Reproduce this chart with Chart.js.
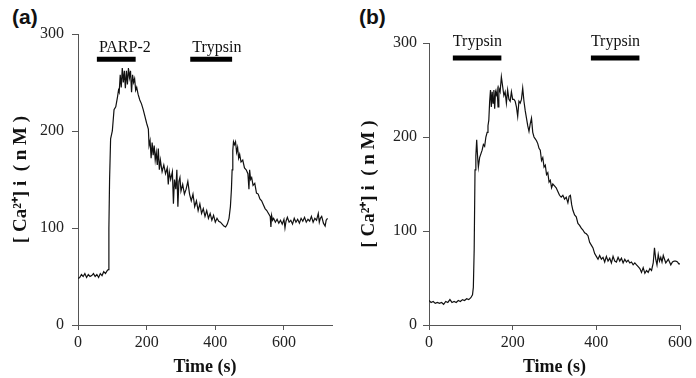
<!DOCTYPE html>
<html>
<head>
<meta charset="utf-8">
<script src="https://cdn.jsdelivr.net/npm/chart.js@4.4.1/dist/chart.umd.min.js"></script>
<style>
  body { margin: 0; background: #fff; width: 696px; height: 378px; position: relative; overflow: hidden; }
  canvas { position: absolute; top: 0; }
  #chartA { left: 0; }
  #chartB { left: 348px; }
  .panel { position: absolute; font: bold 21px "Liberation Sans", Arial, sans-serif; color: #111; }
</style>
</head>
<body>
<div class="panel" style="left:12px; top:5px;">(a)</div>
<div class="panel" style="left:359px; top:5px;">(b)</div>
<canvas id="chartA" width="348" height="378"></canvas>
<canvas id="chartB" width="348" height="378"></canvas>
<script>
// panel (a): PARP-2 then trypsin
const timeA = [0,5,10,15,20,25,30,35,40,45,50,55,60,65,70,75,80,85,88,90,92,95,100,105,110,115,118,120,123,126,129,132,135,138,141,144,147,150,153,156,159,162,165,168,171,175,180,185,190,195,200,205,207,210,213,216,219,222,225,228,231,234,237,240,245,250,255,260,263,266,270,275,278,281,285,288,291,294,297,300,305,310,315,320,325,330,335,340,345,350,355,360,365,370,375,380,385,390,395,400,405,410,415,420,425,430,435,440,444,447,449,451,453,456,459,462,465,468,471,475,480,485,490,495,498,500,503,506,510,515,520,525,530,535,540,545,550,555,560,562,564,567,570,575,580,585,590,595,600,603,606,610,615,620,625,630,635,640,645,650,655,660,665,670,675,680,685,690,695,700,703,706,710,715,720,723,727];
const caA = [48,49,52,50,53,49,52,50,51,53,50,52,49,53,51,55,53,56,57,100,150,192,200,222,225,235,242,240,258,245,265,250,262,244,262,248,265,255,262,240,258,250,254,242,245,238,232,228,222,215,208,202,185,190,172,188,175,185,170,178,165,182,160,170,158,165,156,162,145,158,150,158,125,150,140,160,122,148,152,138,145,135,140,148,135,128,135,122,128,118,125,115,120,112,118,110,115,108,113,106,110,107,106,104,102,101,104,110,122,140,160,180,189,186,189,178,183,172,176,168,170,162,160,156,140,160,150,152,144,146,136,135,130,128,124,120,118,115,112,101,113,108,110,106,109,105,108,104,109,100,107,111,106,108,104,110,106,109,105,110,107,111,106,109,107,112,106,110,108,115,106,110,112,105,102,108,110];

// panel (b): trypsin twice
const timeB = [0,5,10,15,20,25,30,35,40,45,50,55,60,65,70,75,80,85,90,95,100,104,106,108,110,112,114,116,118,121,124,127,130,133,136,139,141,143,145,147,149,151,153,155,157,159,161,163,165,167,170,173,176,179,182,185,188,191,194,197,200,203,206,209,212,215,218,221,224,227,230,233,236,239,242,245,248,251,254,257,260,263,266,269,272,275,278,281,284,287,290,293,296,300,304,308,312,316,320,324,328,332,335,338,341,344,348,352,356,360,364,368,372,376,380,384,388,392,396,400,404,408,412,416,420,424,428,432,436,440,444,448,452,456,460,464,468,472,476,480,484,488,492,496,500,504,508,512,516,520,524,528,532,536,539,542,545,548,551,554,557,560,563,566,569,572,575,578,582,586,590,594,597,600];
const caB = [26,24,25,23,24,23,24,22,25,24,27,24,25,24,26,25,27,26,28,27,29,32,40,80,165,180,197,180,168,178,182,186,192,190,200,205,212,218,238,250,232,248,236,250,230,248,245,250,232,252,248,264,254,244,248,236,250,240,238,248,240,240,238,232,222,238,236,240,252,238,228,220,212,206,214,220,205,200,198,196,193,188,186,175,178,168,170,160,162,152,154,146,150,148,146,142,138,136,138,134,136,130,137,138,128,122,117,115,108,106,103,101,98,97,95,88,85,82,76,73,70,74,70,72,67,73,68,71,66,73,68,67,72,68,71,66,70,67,69,66,67,64,66,64,62,60,56,61,55,58,56,60,58,66,82,70,64,75,68,72,67,74,70,66,68,70,67,64,67,68,68,67,65,65];

const yTicks = [0, 100, 200, 300];
const xTicksA = [0, 200, 400, 600];
const xTicksB = [0, 200, 400, 600];
const xMaxA = 740;
const xMaxB = 600;

// treatment bars (s) and their level on the y scale (nM)
const treatA = ['PARP-2', 'Trypsin'];
const treatStartA = [55, 327];
const treatEndA = [168, 449];
const treatLevelA = 274;
const treatB = ['Trypsin', 'Trypsin'];
const treatStartB = [57, 387];
const treatEndB = [173, 503];
const treatLevelB = 284;

const serif = '"Liberation Serif", "Times New Roman", serif';

const treatmentBars = {
  id: 'treatmentBars',
  afterDatasetsDraw(chart, args, opts) {
    const { ctx, scales: { x, y } } = chart;
    ctx.save();
    ctx.strokeStyle = '#000';
    ctx.fillStyle = '#111';
    ctx.lineWidth = 5;
    ctx.font = '16px ' + serif;
    ctx.textAlign = 'left';
    ctx.textBaseline = 'alphabetic';
    const yy = y.getPixelForValue(opts.level);
    opts.labels.forEach((lab, i) => {
      const x0 = x.getPixelForValue(opts.start[i]);
      const x1 = x.getPixelForValue(opts.end[i]);
      ctx.beginPath();
      ctx.moveTo(x0, yy);
      ctx.lineTo(x1, yy);
      ctx.stroke();
      ctx.fillText(lab, x0 + opts.textShift, yy - opts.gap);
    });
    ctx.restore();
  }
};

function makeChart(id, times, values, xMax, xTicks, bars, axisWidth, yPad, padTop) {
  return new Chart(document.getElementById(id), {
    type: 'line',
    data: {
      datasets: [{
        data: times.map((t, i) => ({ x: t, y: values[i] })),
        borderColor: '#111',
        borderWidth: 1.2,
        pointRadius: 0,
        tension: 0,
        fill: false,
      }],
    },
    options: {
      responsive: false,
      animation: false,
      devicePixelRatio: 1,
      layout: { padding: { left: 0, right: 16, top: padTop, bottom: 0 } },
      plugins: {
        legend: { display: false },
        tooltip: { enabled: false },
        treatmentBars: bars,
      },
      scales: {
        x: {
          type: 'linear',
          min: 0,
          max: xMax,
          afterBuildTicks: (s) => { s.ticks = xTicks.map((v) => ({ value: v })); },
          afterFit: (s) => { s.height = 53; },
          grid: { drawOnChartArea: false, drawTicks: true, tickLength: 5, color: '#555' },
          border: { display: true, color: '#555', width: 1 },
          ticks: { color: '#222', font: { family: serif, size: 16 }, padding: 3, maxRotation: 0 },
          title: {
            display: true,
            text: 'Time (s)',
            color: '#111',
            font: { family: serif, size: 18, weight: 'bold', lineHeight: 1.1 },
            padding: { top: 0, bottom: 1 },
          },
        },
        y: {
          min: 0,
          max: 300,
          afterBuildTicks: (s) => { s.ticks = yTicks.map((v) => ({ value: v })); },
          afterFit: (s) => { s.width = axisWidth; },
          grid: { drawOnChartArea: false, drawTicks: true, tickLength: 6, color: '#555' },
          border: { display: true, color: '#555', width: 1 },
          ticks: { color: '#222', font: { family: serif, size: 16 }, padding: yPad },
          title: {
            display: true,
            text: '[ Ca²⁺] i  ( n M )',
            color: '#111',
            font: { family: serif, size: 19, weight: 'bold', lineHeight: 1.1 },
            padding: { top: 11, bottom: 0 },
          },
        },
      },
    },
    plugins: [treatmentBars],
  });
}

makeChart('chartA', timeA, caA, xMaxA, xTicksA,
  { labels: treatA, start: treatStartA, end: treatEndA, level: treatLevelA, gap: 7, textShift: 2 },
  78, 8, 34);
makeChart('chartB', timeB, caB, xMaxB, xTicksB,
  { labels: treatB, start: treatStartB, end: treatEndB, level: treatLevelB, gap: 12, textShift: 0 },
  81, 6, 43);
</script>
</body>
</html>
